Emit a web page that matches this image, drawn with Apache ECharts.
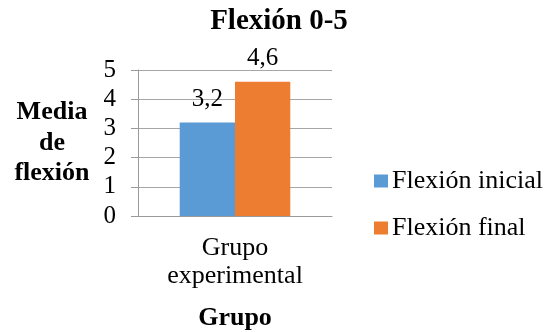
<!DOCTYPE html>
<html>
<head>
<meta charset="utf-8">
<script src="https://cdn.jsdelivr.net/npm/echarts@6/dist/echarts.min.js"></script>
<style>
  html, body { margin: 0; padding: 0; background: #fff; }
  #chart { width: 558px; height: 332px; }
</style>
</head>
<body>
<div id="chart"></div>
<script>
// Chart data
const titleText = 'Flexión 0-5';
const categories = ['Grupo\nexperimental'];
const seriesNames = ['Flexión inicial', 'Flexión final'];
const inicialValues = [3.2];
const finalValues = [4.6];
const yTicks = [0, 1, 2, 3, 4, 5];
const xAxisTitle = 'Grupo';
const yAxisTitle = 'Media\nde\nflexión';

const FONT = "'Liberation Serif', 'Times New Roman', serif";
const colors = ['#5B9BD5', '#ED7D31'];

const chart = echarts.init(document.getElementById('chart'), null, { renderer: 'canvas' });

const labelFmt = p => String(p.value).replace('.', ',');

chart.setOption({
  animation: false,
  backgroundColor: '#ffffff',
  color: colors,
  title: {
    text: titleText,
    left: 'center',
    top: 7,
    padding: 0,
    textStyle: { fontFamily: FONT, fontWeight: 'bold', fontSize: 29, color: '#000' }
  },
  legend: {
    orient: 'vertical',
    left: 374,
    top: 168,
    padding: 0,
    itemWidth: 14,
    itemHeight: 13,
    itemGap: 21,
    icon: 'rect',
    textStyle: { fontFamily: FONT, fontSize: 26, color: '#000', padding: [0, 0, 0, -1] },
    data: seriesNames
  },
  grid: { left: 138, right: 226, top: 70, bottom: 116, containLabel: false },
  xAxis: {
    type: 'category',
    data: categories,
    name: xAxisTitle,
    nameLocation: 'middle',
    nameGap: 89,
    nameTextStyle: { fontFamily: FONT, fontWeight: 'bold', fontSize: 26, color: '#000', verticalAlign: 'top' },
    axisLine: { show: true, lineStyle: { color: '#9a9a9a', width: 1 } },
    axisTick: { show: false },
    axisLabel: { fontFamily: FONT, fontSize: 26, color: '#000', margin: 18, lineHeight: 28 }
  },
  yAxis: {
    type: 'value',
    min: yTicks[0],
    max: yTicks[yTicks.length - 1],
    interval: 1,
    name: yAxisTitle,
    nameLocation: 'middle',
    nameRotate: 0,
    nameGap: 86,
    nameTextStyle: { fontFamily: FONT, fontWeight: 'bold', fontSize: 26, color: '#000', align: 'center', verticalAlign: 'middle', lineHeight: 30.5, padding: [14, 0, 0, 0] },
    axisLine: { show: true, lineStyle: { color: '#9a9a9a', width: 1 } },
    axisTick: { show: true, inside: false, length: 7, lineStyle: { color: '#9a9a9a' } },
    splitLine: { show: true, lineStyle: { color: '#a6a6a6', width: 1 } },
    axisLabel: { fontFamily: FONT, fontSize: 25, color: '#000', margin: 22 }
  },
  series: [
    {
      name: seriesNames[0],
      type: 'bar',
      data: inicialValues,
      barGap: '0%',
      barCategoryGap: '43%',
      itemStyle: { color: colors[0] },
      label: { show: true, position: 'top', distance: 11, fontFamily: FONT, fontSize: 25, color: '#000', formatter: labelFmt }
    },
    {
      name: seriesNames[1],
      type: 'bar',
      data: finalValues,
      barGap: '0%',
      barCategoryGap: '43%',
      itemStyle: { color: colors[1] },
      label: { show: true, position: 'top', distance: 11, fontFamily: FONT, fontSize: 25, color: '#000', formatter: labelFmt }
    }
  ]
});
</script>
</body>
</html>
